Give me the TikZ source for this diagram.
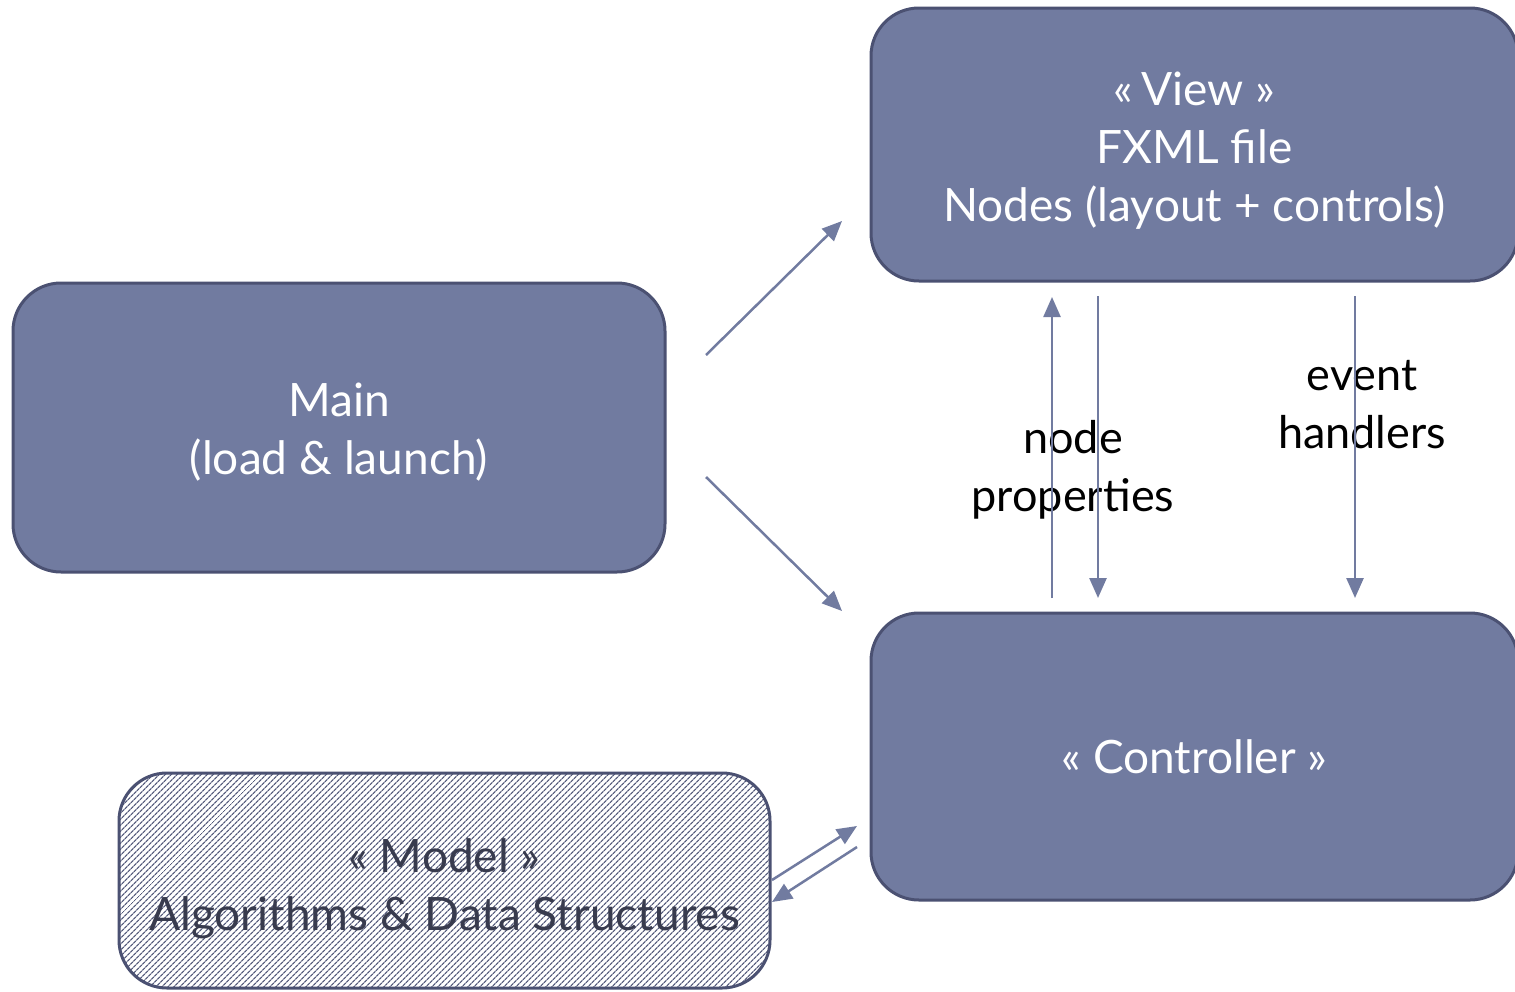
\documentclass[tikz,border=0pt]{standalone}
\usepackage{fontspec}
\setmainfont{Lato}
\usetikzlibrary{arrows.meta,patterns.meta}
\definecolor{boxfill}{HTML}{717BA0}
\definecolor{boxline}{HTML}{4B5172}
\definecolor{arrowc}{HTML}{717BA0}
\definecolor{modeltext}{HTML}{383B4E}
\definecolor{hatch}{HTML}{555B7C}
\newcommand{\pushdown}[1]{\rule{0pt}{#1}}
\begin{document}
\begin{tikzpicture}[x=1pt,y=-1pt,
  box/.style={draw=boxline, line width=3pt, rounded corners=48pt, fill=boxfill,
    text=white, align=center, inner sep=0pt,
    font=\fontsize{46}{58}\selectfont},
  conn/.style={draw=arrowc, line width=2.5pt, -{Triangle[length=20pt,width=17pt]}},
  lbl/.style={align=center, inner sep=0pt, font=\fontsize{45}{58}\selectfont}]
\useasboundingbox (0,0) rectangle (1515,991);
\clip (0,0) rectangle (1515,991);
\fill[white] (0,0) rectangle (1515,991);
% boxes
\node[box, minimum width=647pt, minimum height=273pt] (view) at (1194.5,144.5)
  {\pushdown{46pt}«\,View »\\FXML file\\Nodes (layout + controls)};
\node[box, minimum width=647pt, minimum height=287pt] (ctrl) at (1194.5,756.5)
  {« Controller »};
\node[box, minimum width=652pt, minimum height=289pt] (main) at (339,427.5)
  {\pushdown{43pt}Main\\(load \& launch)};
\node[box, minimum width=651pt, minimum height=215pt, fill=white,
  pattern={Lines[angle=45,distance=4pt,line width=1.3pt]}, pattern color=hatch,
  text=modeltext] (model) at (444.5,880.5)
  {\pushdown{50pt}« Model »\\Algorithms \& Data Structures};
% labels
\node[lbl] (np) at (1073,470) {node\\properties};
\node[lbl] (eh) at (1362,405) {event\\handlers};
% coordinates
\coordinate (m1) at (706,355);
\coordinate (v1) at (842,221);
\coordinate (m2) at (706,477);
\coordinate (c1) at (842,611);
\coordinate (u1) at (1052,598);
\coordinate (u2) at (1052,297);
\coordinate (d1) at (1098,296);
\coordinate (d2) at (1098,598);
\coordinate (e1) at (1355,296);
\coordinate (e2) at (1355,598);
\coordinate (p1) at (772,880);
\coordinate (p2) at (857,826);
\coordinate (q1) at (857,847);
\coordinate (q2) at (772,902);
% connectors
\draw[conn] (m1) -- (v1);
\draw[conn] (m2) -- (c1);
\draw[conn] (u1) -- (u2);
\draw[conn] (d1) -- (d2);
\draw[conn] (e1) -- (e2);
\draw[conn] (p1) -- (p2);
\draw[conn] (q1) -- (q2);
\end{tikzpicture}
\end{document}
